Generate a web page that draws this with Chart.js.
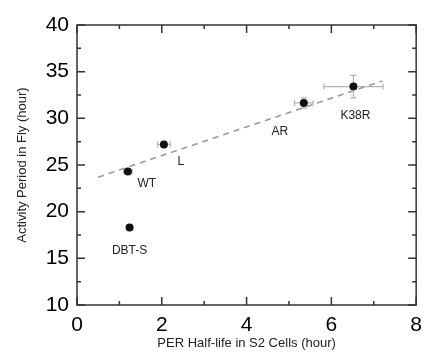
<!DOCTYPE html>
<html>
<head>
<meta charset="utf-8">
<script src="https://cdn.jsdelivr.net/npm/chart.js@4"></script>
<style>
html, body { margin: 0; padding: 0; background: #fff; }
#wrap { width: 430px; height: 359px; }
</style>
</head>
<body>
<div id="wrap"><canvas id="c"></canvas></div>
<script>
var names = ['WT', 'L', 'DBT-S', 'AR', 'K38R'];
var halfLife = [1.2, 2.05, 1.24, 5.35, 6.52];
var period = [24.3, 27.2, 18.3, 31.65, 33.4];
var halfLifeErr = [0.1, 0.15, 0.06, 0.22, 0.7];
var periodErr = [0.2, 0.3, 0.15, 0.55, 1.2];
var fitX = [0.5, 7.2];
var fitY = [23.7, 34.0];

// label offsets from the point, in pixels
var labelOffset = {
    'WT': [19, 12],
    'L': [17, 17],
    'DBT-S': [0, 23],
    'AR': [-24, 29],
    'K38R': [2, 29]
};

var frameAndBars = {
    id: 'frameAndBars',
    beforeDatasetsDraw: function(chart) {
        var ctx = chart.ctx, xs = chart.scales.x, ys = chart.scales.y;
        ctx.save();
        ctx.strokeStyle = '#b3b3b3';
        ctx.lineWidth = 1.2;
        for (var i = 0; i < names.length; i++) {
            var px = xs.getPixelForValue(halfLife[i]);
            var py = ys.getPixelForValue(period[i]);
            var x0 = xs.getPixelForValue(halfLife[i] - halfLifeErr[i]);
            var x1 = xs.getPixelForValue(halfLife[i] + halfLifeErr[i]);
            var y0 = ys.getPixelForValue(period[i] - periodErr[i]);
            var y1 = ys.getPixelForValue(period[i] + periodErr[i]);
            ctx.beginPath();
            ctx.moveTo(x0, py); ctx.lineTo(x1, py);
            ctx.moveTo(x0, py - 3); ctx.lineTo(x0, py + 3);
            ctx.moveTo(x1, py - 3); ctx.lineTo(x1, py + 3);
            ctx.moveTo(px, y0); ctx.lineTo(px, y1);
            ctx.moveTo(px - 3, y0); ctx.lineTo(px + 3, y0);
            ctx.moveTo(px - 3, y1); ctx.lineTo(px + 3, y1);
            ctx.stroke();
        }
        ctx.restore();
    },
    afterDraw: function(chart) {
        var ctx = chart.ctx, a = chart.chartArea;
        var xs = chart.scales.x, ys = chart.scales.y;
        ctx.save();
        ctx.strokeStyle = '#333';
        ctx.lineWidth = 1.5;
        ctx.strokeRect(a.left, a.top, a.right - a.left, a.bottom - a.top);
        ctx.beginPath();
        xs.ticks.forEach(function(t) {
            var p = xs.getPixelForValue(t.value);
            var len = t.value % 2 === 0 ? 8 : 4;
            ctx.moveTo(p, a.bottom); ctx.lineTo(p, a.bottom - len);
            ctx.moveTo(p, a.top); ctx.lineTo(p, a.top + len);
        });
        ys.ticks.forEach(function(t) {
            var p = ys.getPixelForValue(t.value);
            var len = t.value % 5 === 0 ? 8 : 4;
            ctx.moveTo(a.left, p); ctx.lineTo(a.left + len, p);
            ctx.moveTo(a.right, p); ctx.lineTo(a.right - len, p);
        });
        ctx.stroke();

        ctx.fillStyle = '#222';
        ctx.font = '12px "Liberation Sans", Arial, sans-serif';
        ctx.textAlign = 'center';
        ctx.textBaseline = 'middle';
        for (var i = 0; i < names.length; i++) {
            var off = labelOffset[names[i]];
            ctx.fillText(names[i],
                xs.getPixelForValue(halfLife[i]) + off[0],
                ys.getPixelForValue(period[i]) + off[1]);
        }
        ctx.restore();
    }
};

var points = halfLife.map(function(v, i) { return {x: v, y: period[i]}; });
var fitLine = fitX.map(function(v, i) { return {x: v, y: fitY[i]}; });

new Chart(document.getElementById('c').getContext('2d'), {
    type: 'scatter',
    data: {
        datasets: [
            {
                type: 'line',
                data: fitLine,
                borderColor: '#9a9a9a',
                borderWidth: 1.6,
                borderDash: [6, 5],
                pointRadius: 0,
                fill: false
            },
            {
                data: points,
                backgroundColor: '#111',
                borderWidth: 0,
                pointRadius: 4
            }
        ]
    },
    options: {
        responsive: true,
        maintainAspectRatio: false,
        animation: false,
        devicePixelRatio: 1,
        layout: { padding: { top: 25, right: 6, left: 0, bottom: 0 } },
        plugins: { legend: { display: false }, tooltip: { enabled: false } },
        scales: {
            x: {
                type: 'linear',
                min: 0, max: 8,
                grid: { display: false, drawTicks: false },
                border: { display: false },
                ticks: {
                    stepSize: 1,
                    autoSkip: false,
                    maxRotation: 0,
                    padding: 8,
                    color: '#000',
                    font: { size: 21, family: '"Liberation Sans", Arial, sans-serif' },
                    callback: function(v) { return v % 2 === 0 ? v : ''; }
                },
                title: {
                    display: true,
                    text: 'PER Half-life in S2 Cells (hour)',
                    color: '#222',
                    font: { size: 13, family: '"Liberation Sans", Arial, sans-serif' },
                    padding: { top: 4, bottom: 8 }
                },
                afterFit: function(s) { s.height = 54; }
            },
            y: {
                type: 'linear',
                min: 10, max: 40,
                grid: { display: false, drawTicks: false },
                border: { display: false },
                ticks: {
                    stepSize: 2.5,
                    autoSkip: false,
                    padding: 8,
                    color: '#000',
                    font: { size: 21, family: '"Liberation Sans", Arial, sans-serif' },
                    callback: function(v) { return v % 5 === 0 ? v : ''; }
                },
                title: {
                    display: true,
                    text: 'Activity Period in Fly (hour)',
                    color: '#222',
                    font: { size: 13, family: '"Liberation Sans", Arial, sans-serif' },
                    padding: { top: 15, bottom: 4 }
                },
                afterFit: function(s) { s.width = 77; }
            }
        }
    },
    plugins: [frameAndBars]
});
</script>
</body>
</html>
